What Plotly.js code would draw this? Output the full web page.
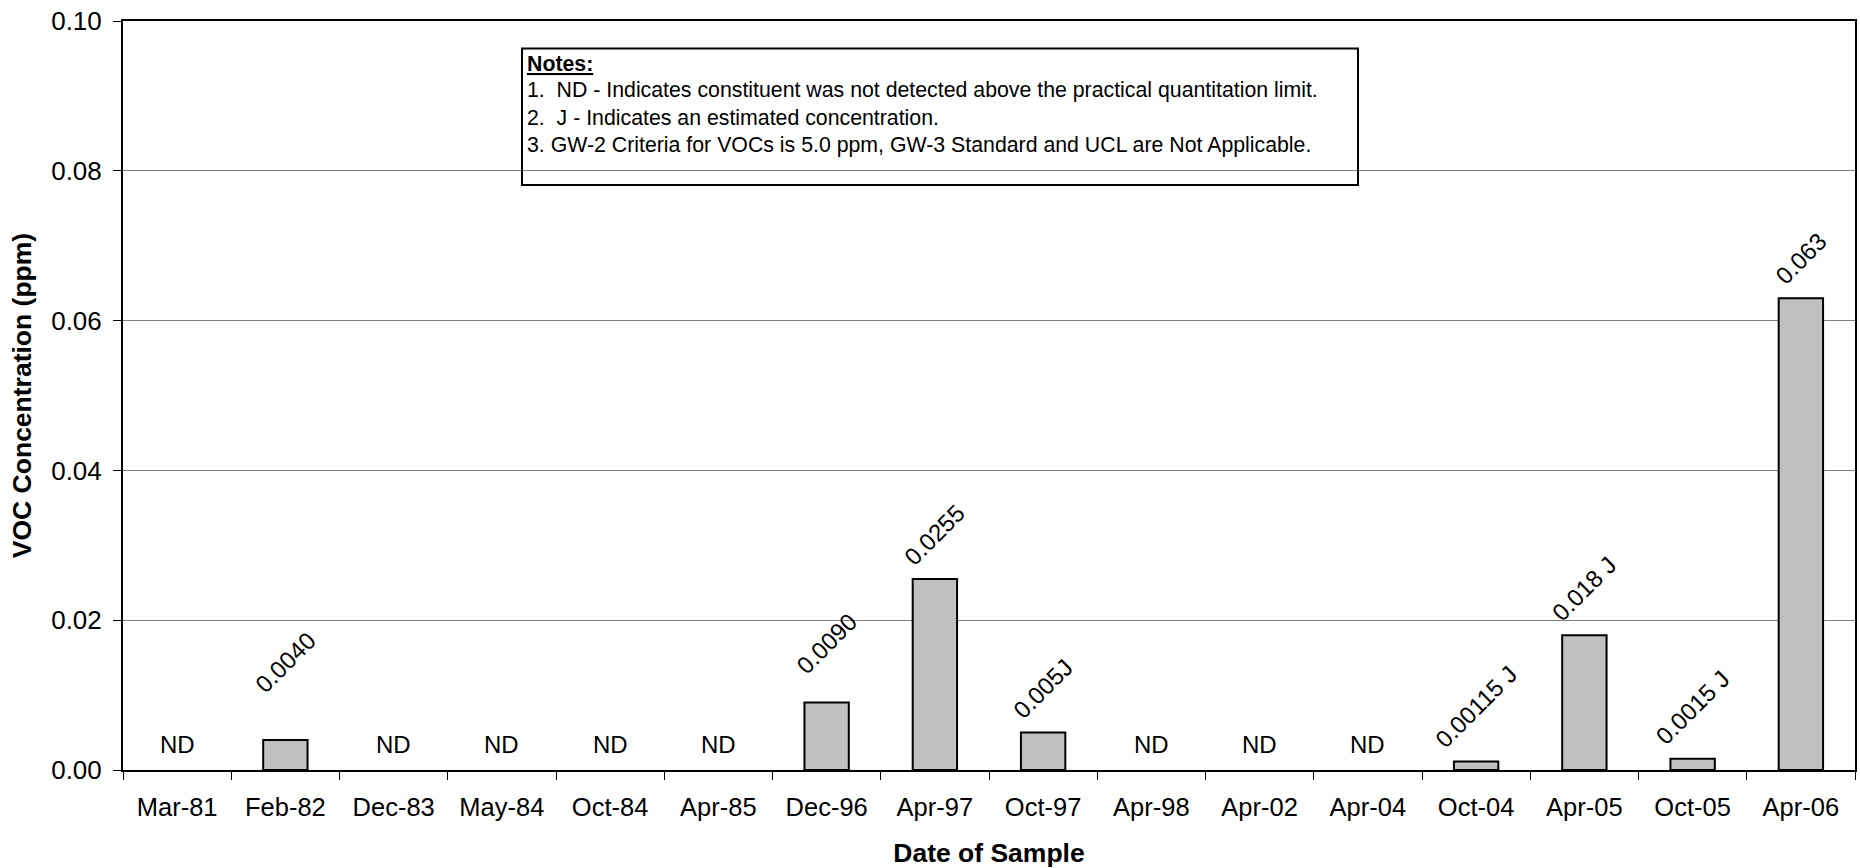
<!DOCTYPE html>
<html>
<head>
<meta charset="utf-8">
<script src="https://cdn.plot.ly/plotly-3.0.1.min.js"></script>
<style>
  html, body { margin: 0; padding: 0; background: #fff; }
  #chart { width: 1860px; height: 868px; }
</style>
</head>
<body>
<div id="chart"></div>
<script>
// ---- data ----
const sampleDates = ['Mar-81','Feb-82','Dec-83','May-84','Oct-84','Apr-85','Dec-96','Apr-97','Oct-97','Apr-98','Apr-02','Apr-04','Oct-04','Apr-05','Oct-05','Apr-06'];
const vocPpm = [null, 0.004, null, null, null, null, 0.009, 0.0255, 0.005, null, null, null, 0.00115, 0.018, 0.0015, 0.063];
const barLabels = ['ND','0.0040','ND','ND','ND','ND','0.0090','0.0255','0.005J','ND','ND','ND','0.00115 J','0.018 J','0.0015 J','0.063'];
const notesLines = [
  '<b><u>Notes:</u></b>',
  '1.  ND - Indicates constituent was not detected above the practical quantitation limit.',
  '2.  J - Indicates an estimated concentration.',
  '3. GW-2 Criteria for VOCs is 5.0 ppm, GW-3 Standard and UCL are Not Applicable.'
];
const yTicks = [0, 0.02, 0.04, 0.06, 0.08, 0.10];

// ---- styling helpers (not data) ----
const labelExtraLift = [0, 33, 0, 0, 0, 0, 15, 0, 0, 0, 0, 0, 0, 0, 0, 0];
const FONT = 'Liberation Sans, Arial, sans-serif';

const annotations = [];
sampleDates.forEach((d, i) => {
  if (vocPpm[i] === null) {
    annotations.push({
      x: d, y: 0, xref: 'x', yref: 'y', text: barLabels[i], showarrow: false,
      xanchor: 'center', yanchor: 'middle', yshift: 26,
      font: {family: FONT, size: 24, color: '#000'}
    });
  } else {
    annotations.push({
      x: d, y: vocPpm[i], xref: 'x', yref: 'y', text: barLabels[i], showarrow: false,
      xanchor: 'center', yanchor: 'bottom', textangle: -45, yshift: 6 + labelExtraLift[i],
      font: {family: FONT, size: 24, color: '#000'}
    });
  }
});

// notes box text (paper coords, plot area l=123..1855, t=21..770)
const px = v => (v - 123) / 1732;
const py = v => (770 - v) / 749;
const noteY = [63.5, 90, 117.5, 145];
notesLines.forEach((t, i) => {
  annotations.push({
    x: px(525), y: py(noteY[i]), xref: 'paper', yref: 'paper', text: t, showarrow: false,
    xanchor: 'left', yanchor: 'middle', align: 'left',
    font: {family: FONT, size: 21.3, color: '#000'}
  });
});

const trace = {
  type: 'bar',
  x: sampleDates,
  y: vocPpm,
  width: 0.41,
  marker: {color: '#C0C0C0', line: {color: '#000', width: 2}},
  hoverinfo: 'x+y'
};

const layout = {
  width: 1860, height: 868,
  margin: {l: 123, r: 5, t: 21, b: 98, pad: 0},
  paper_bgcolor: '#fff', plot_bgcolor: '#fff',
  font: {family: FONT, color: '#000', size: 25},
  showlegend: false,
  bargap: 0,
  xaxis: {
    type: 'category',
    categoryorder: 'array', categoryarray: sampleDates,
    showline: true, linecolor: '#000', linewidth: 2, mirror: true,
    ticks: 'outside', tickson: 'boundaries', ticklen: 8, tickwidth: 1, tickcolor: '#000',
    showgrid: false, zeroline: false,
    tickfont: {family: FONT, size: 25.5, color: '#000'},
    ticklabelstandoff: 13,
    title: {text: '<b>Date of Sample</b>', font: {family: FONT, size: 26.5, color: '#000'}, standoff: 28},
    automargin: false
  },
  yaxis: {
    range: [0, 0.1], tickvals: yTicks, tickformat: '.2f',
    showline: true, linecolor: '#000', linewidth: 2, mirror: true,
    ticks: 'outside', ticklen: 8, tickwidth: 1, tickcolor: '#000',
    showgrid: true, gridcolor: '#808080', gridwidth: 1, zeroline: false,
    tickfont: {family: FONT, size: 26, color: '#000'},
    ticklabelstandoff: 6,
    title: {text: '<b>VOC Concentration (ppm)</b>', font: {family: FONT, size: 26.5, color: '#000'}, standoff: 12},
    automargin: false
  },
  shapes: [{
    type: 'rect', xref: 'paper', yref: 'paper', layer: 'above',
    x0: px(522), x1: px(1358), y0: py(185), y1: py(48.6),
    fillcolor: 'rgba(0,0,0,0)', line: {color: '#000', width: 2}
  }, {
    type: 'rect', xref: 'paper', yref: 'paper', layer: 'below',
    x0: px(522), x1: px(1358), y0: py(185), y1: py(48.6),
    fillcolor: '#fff', line: {width: 0}
  }],
  annotations: annotations
};

Plotly.newPlot('chart', [trace], layout, {displayModeBar: false, staticPlot: true});
</script>
</body>
</html>
